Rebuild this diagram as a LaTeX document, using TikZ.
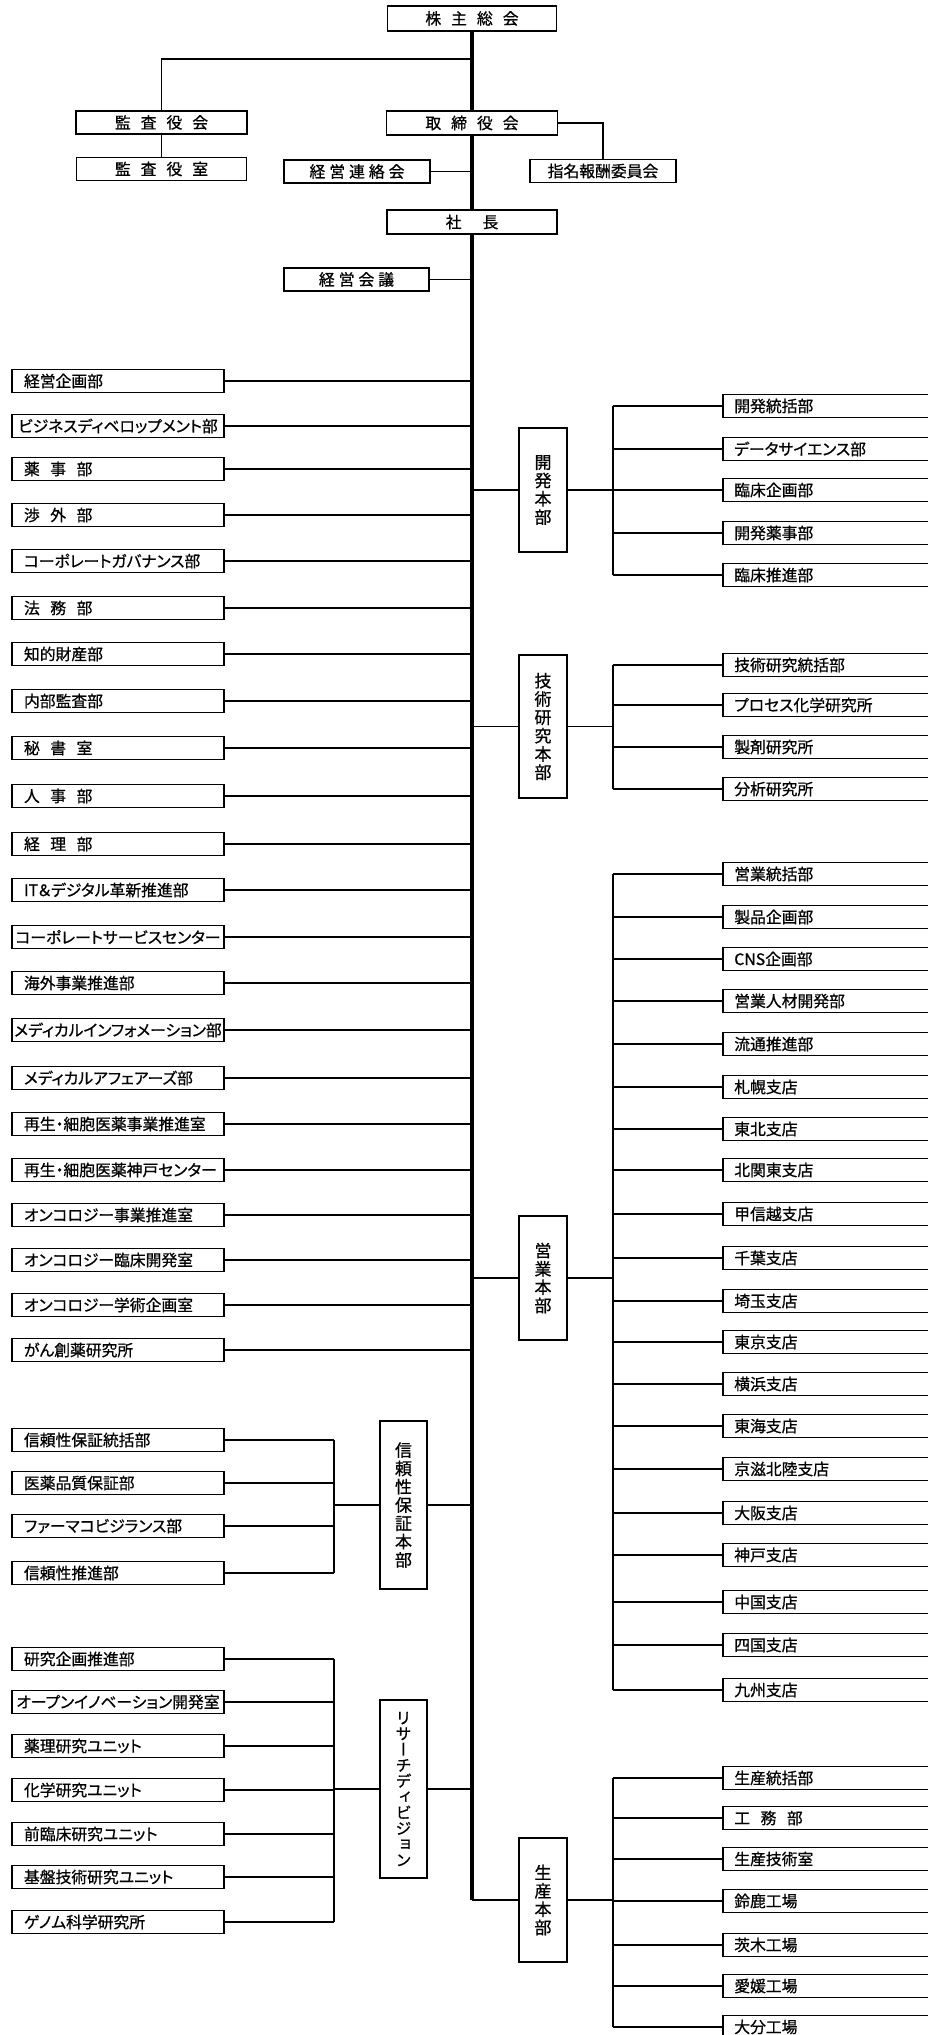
\documentclass[tikz,border=0pt]{standalone}
\usepackage{fontspec}
\setmainfont{Noto Sans CJK JP}[RawFeature={+palt}, FakeBold=0.7]
\newfontfamily\vfont{Noto Sans CJK JP}[RawFeature={+vert}, FakeBold=0.7]
\newcommand\gapA{\hspace{10pt}}
\newcommand\gapB{\hspace{4pt}}
\newcommand\gapL{\hspace{10.5pt}}
\newcommand\ctr[1]{\makebox[\linewidth][c]{#1}}
\begin{document}
\begin{tikzpicture}[x=1pt,y=-1pt,
  every node/.style={font=\fontsize{15.8pt}{18pt}\selectfont},
  bx/.style={draw, line width=1.6pt, inner sep=0pt, minimum height=23pt},
  topbox/.style={bx, align=center},
  lbox/.style={bx, text width=188pt, inner xsep=12pt, align=left},
  rbox/.style={bx, text width=195pt, inner xsep=11.5pt, align=left, anchor=west},
  vbox/.style={bx, minimum width=48pt, align=center, font=\vfont\fontsize{17pt}{18.3pt}\selectfont},
  ln/.style={line width=1.6pt},
  mainln/.style={line width=4pt},
]
\useasboundingbox (0,0) rectangle (928,2035);
\clip (0,0) rectangle (928,2035);
\fill[white] (0,0) rectangle (928,2035);

\coordinate (spine) at (472,0);
\coordinate (brR) at (613,0);
\coordinate (brL) at (334,0);
\coordinate (kbr) at (472,59);

% top
\node[topbox, minimum width=169pt, minimum height=25pt] (kabu) at (472,18.5) {株\gapA 主\gapA 総\gapA 会};
\node[topbox, minimum width=171pt] (kansa) at (161.5,122.5) {監\gapA 査\gapA 役\gapA 会};
\node[topbox, minimum width=170pt] (kansashitsu) at (161.5,169) {監\gapA 査\gapA 役\gapA 室};
\node[topbox, minimum width=171pt, minimum height=24pt] (tori) at (472,123) {取\gapA 締\gapA 役\gapA 会};
\node[topbox, minimum width=146pt] (renraku) at (357,171.5) {経\gapB 営\gapB 連\gapB 絡\gapB 会};
\node[topbox, minimum width=146pt] (shimei) at (603,171) {指名報酬委員会};
\node[topbox, minimum width=170pt, minimum height=24pt] (shacho) at (472,222) {社\hspace{21pt}長};
\node[topbox, minimum width=145pt] (kaigi) at (356.5,279.5) {経\gapB 営\gapB 会\gapB 議};

% middle boxes
\node[vbox, minimum height=124pt] (kaihatsu) at (543,490) {開\\発\\本\\部};
\node[vbox, minimum height=143pt] (gijutsu) at (543,726.5) {技\\術\\研\\究\\本\\部};
\node[vbox, minimum height=124pt] (eigyo) at (543,1278) {営\\業\\本\\部};
\node[vbox, minimum height=124pt] (seisan) at (543,1900) {生\\産\\本\\部};
\node[vbox, minimum width=47pt, minimum height=168pt] (shinrai) at (403.5,1505) {信\\頼\\性\\保\\証\\本\\部};
\node[vbox, minimum width=47pt, minimum height=178pt, font=\vfont\fontsize{16pt}{15.8pt}\selectfont] (research) at (403.5,1789) {リ\\サ\\ー\\チ\\デ\\ィ\\ビ\\ジ\\ョ\\ン};

% main spine
\draw[mainln] (kabu.south) -- (tori.north);
\draw[mainln] (tori.south) -- (shacho.north);
\draw[mainln] (shacho.south) -- (shacho.south |- seisan.west);
\draw[ln] (shacho.south |- seisan.west) -- (seisan.west);

% top connectors
\draw[ln] (kansa.north) |- (kbr);
\draw[ln] (kansa.south) -- (kansashitsu.north);
\draw[ln] (tori.east) -| (shimei.north);
\draw[ln] (renraku.east) -- (renraku.east -| spine);
\draw[ln] (kaigi.east) -- (kaigi.east -| spine);

% left column
\foreach \i/\y/\t in {1/381/経営企画部, 2/426/\ctr{ビジネスディベロップメント部}, 3/469/薬\gapL 事\gapL 部, 4/515/渉\gapL 外\gapL 部, 5/561/コーポレートガバナンス部, 6/608/法\gapL 務\gapL 部, 7/654/知的財産部, 8/701/内部監査部, 9/748/秘\gapL 書\gapL 室, 10/796/人\gapL 事\gapL 部, 11/844/経\gapL 理\gapL 部, 12/890/IT＆デジタル革新推進部, 13/937/\ctr{コーポレートサービスセンター}, 14/983/海外事業推進部, 15/1030/\ctr{メディカルインフォメーション部}, 16/1078/メディカルアフェアーズ部, 17/1124/再生・細胞医薬事業推進室, 18/1170/再生・細胞医薬神戸センター, 19/1215/オンコロジー事業推進室, 20/1260/オンコロジー臨床開発室, 21/1305/オンコロジー学術企画室, 22/1350/がん創薬研究所} {
  \node[lbox] (L\i) at (118,\y) {\t};
  \draw[ln] (L\i.east) -- (L\i.east -| spine);
}

% kaihatsu
\draw[ln] (kaihatsu.west -| spine) -- (kaihatsu.west);
\draw[ln] (kaihatsu.east) -- (kaihatsu.east -| brR);
\foreach \i/\y/\t in {1/406/開発統括部, 2/449/データサイエンス部, 3/490/臨床企画部, 4/533/開発薬事部, 5/575/臨床推進部} {
  \node[rbox] (ka\i) at (722,\y) {\t};
  \draw[ln] (ka\i.west) -- (ka\i.west -| brR);
}
\draw[ln] (ka1.west -| brR) -- (ka5.west -| brR);

% gijutsu
\draw[ln] (gijutsu.west -| spine) -- (gijutsu.west);
\draw[ln] (gijutsu.east) -- (gijutsu.east -| brR);
\foreach \i/\y/\t in {1/665/技術研究統括部, 2/705/プロセス化学研究所, 3/747/製剤研究所, 4/789/分析研究所} {
  \node[rbox] (gi\i) at (722,\y) {\t};
  \draw[ln] (gi\i.west) -- (gi\i.west -| brR);
}
\draw[ln] (gi1.west -| brR) -- (gi4.west -| brR);

% eigyo
\draw[ln] (eigyo.west -| spine) -- (eigyo.west);
\draw[ln] (eigyo.east) -- (eigyo.east -| brR);
\foreach \i/\y/\t in {1/874/営業統括部, 2/917/製品企画部, 3/959/CNS企画部, 4/1001/営業人材開発部, 5/1044/流通推進部, 6/1087/札幌支店, 7/1129/東北支店, 8/1170/北関東支店, 9/1214/甲信越支店, 10/1258/千葉支店, 11/1301/埼玉支店, 12/1342/東京支店, 13/1384/横浜支店, 14/1426/東海支店, 15/1469/京滋北陸支店, 16/1513/大阪支店, 17/1555/神戸支店, 18/1602/中国支店, 19/1645/四国支店, 20/1690/九州支店} {
  \node[rbox] (ei\i) at (722,\y) {\t};
  \draw[ln] (ei\i.west) -- (ei\i.west -| brR);
}
\draw[ln] (ei1.west -| brR) -- (ei20.west -| brR);

% seisan
\draw[ln] (seisan.east) -- (seisan.east -| brR);
\foreach \i/\y/\t in {1/1778/生産統括部, 2/1818/工\gapL 務\gapL 部, 3/1859/生産技術室, 4/1901/鈴鹿工場, 5/1945/茨木工場, 6/1986/愛媛工場, 7/2027/大分工場} {
  \node[rbox] (se\i) at (722,\y) {\t};
  \draw[ln] (se\i.west) -- (se\i.west -| brR);
}
\draw[ln] (se1.west -| brR) -- (se7.west -| brR);

% shinrai
\draw[ln] (shinrai.east) -- (shinrai.east -| spine);
\draw[ln] (shinrai.west) -- (shinrai.west -| brL);
\foreach \i/\y/\t in {1/1440/信頼性保証統括部, 2/1483/医薬品質保証部, 3/1526/ファーマコビジランス部, 4/1573/信頼性推進部} {
  \node[lbox] (sh\i) at (118,\y) {\t};
  \draw[ln] (sh\i.east) -- (sh\i.east -| brL);
}
\draw[ln] (sh1.east -| brL) -- (sh4.east -| brL);

% research
\draw[ln] (research.east) -- (research.east -| spine);
\draw[ln] (research.west) -- (research.west -| brL);
\foreach \i/\y/\t in {1/1659/研究企画推進部, 2/1702/\ctr{オープンイノベーション開発室}, 3/1746/薬理研究ユニット, 4/1790/化学研究ユニット, 5/1834/前臨床研究ユニット, 6/1877/基盤技術研究ユニット, 7/1922/ゲノム科学研究所} {
  \node[lbox] (re\i) at (118,\y) {\t};
  \draw[ln] (re\i.east) -- (re\i.east -| brL);
}
\draw[ln] (re1.east -| brL) -- (re7.east -| brL);
\end{tikzpicture}
\end{document}
